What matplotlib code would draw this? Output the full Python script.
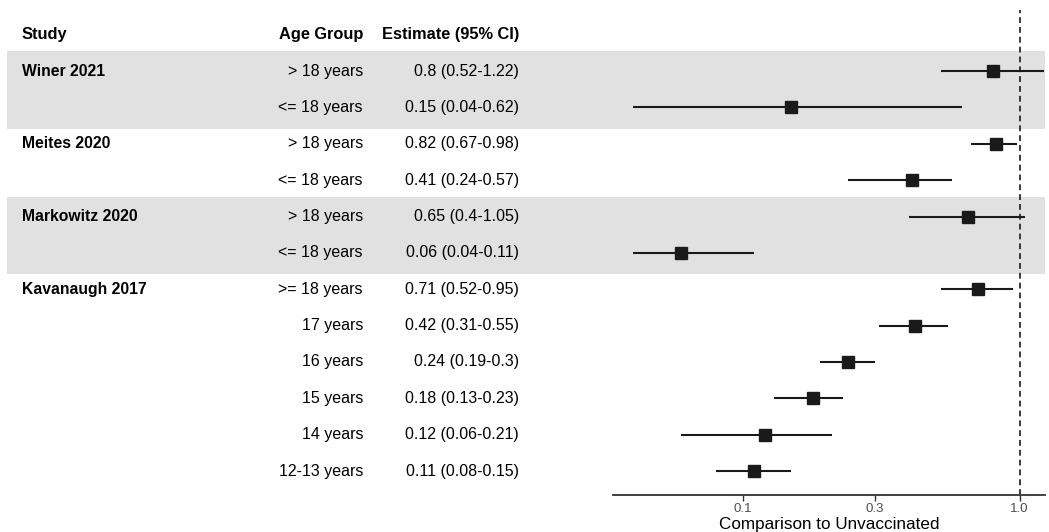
import numpy as np
import matplotlib.pyplot as plt

studies = ["Winer 2021", "", "Meites 2020", "", "Markowitz 2020", "",
           "Kavanaugh 2017", "", "", "", "", ""]
age_groups = ["> 18 years", "<= 18 years", "> 18 years", "<= 18 years",
              "> 18 years", "<= 18 years", ">= 18 years", "17 years",
              "16 years", "15 years", "14 years", "12-13 years"]
estimates = [0.8, 0.15, 0.82, 0.41, 0.65, 0.06, 0.71, 0.42, 0.24, 0.18, 0.12, 0.11]
lower = [0.52, 0.04, 0.67, 0.24, 0.4, 0.04, 0.52, 0.31, 0.19, 0.13, 0.06, 0.08]
upper = [1.22, 0.62, 0.98, 0.57, 1.05, 0.11, 0.95, 0.55, 0.3, 0.23, 0.21, 0.15]
shaded_studies = ["Winer 2021", "Markowitz 2020"]
x_ticks = [0.1, 0.3, 1.0]

W, H = 1049, 532
fig = plt.figure(figsize=(W / 100, H / 100), dpi=100)
plt.rcParams['font.family'] = ['Liberation Sans', 'DejaVu Sans']

top_px, bot_px = 10, 495
y_lo, y_hi = -0.68, 12.66
ax_t = fig.add_axes([7 / W, (H - bot_px) / H, (613 - 7) / W, (bot_px - top_px) / H])
ax = fig.add_axes([613 / W, (H - bot_px) / H, (1045 - 613) / W, (bot_px - top_px) / H])

rows = np.arange(1, len(estimates) + 1)
band_color = "#e1e1e1"

# gray bands behind the shaded studies (two rows each)
for a in (ax_t, ax):
    for i, s in enumerate(studies):
        if s in shaded_studies:
            a.axhspan(rows[i] - 0.55, rows[i] + 1.58, color=band_color, lw=0, zorder=0)
    a.set_ylim(y_hi, y_lo)

# text table
ax_t.set_xlim(7, 613)
ax_t.axis("off")
fs = 11.5
ax_t.text(22, 0, "Study", fontsize=11.8, fontweight="bold", va="center", ha="left")
ax_t.text(363, 0, "Age Group", fontsize=11.8, fontweight="bold", va="center", ha="right")
ax_t.text(519, 0, "Estimate (95% CI)", fontsize=11.8, fontweight="bold", va="center", ha="right")
for i in range(len(estimates)):
    if studies[i]:
        ax_t.text(22, rows[i], studies[i], fontsize=11.3, fontweight="bold", va="center", ha="left")
    ax_t.text(363, rows[i], age_groups[i], fontsize=fs, va="center", ha="right")
    ax_t.text(519, rows[i], f"{estimates[i]:g} ({lower[i]:g}-{upper[i]:g})",
              fontsize=fs, va="center", ha="right")

# forest plot
est = np.array(estimates)
err = np.array([est - np.array(lower), np.array(upper) - est])
ax.errorbar(est, rows, xerr=err, fmt="s", color="#1a1a1a", ms=8.5,
            elinewidth=1.5, capsize=0, zorder=3)
ax.axvline(1.0, color="#1a1a1a", ls=(0, (3.5, 2.4)), lw=1.2, zorder=2)
ax.set_xscale("log")
ax.set_xlim(0.034, 1.235)
ax.set_xticks(x_ticks)
ax.set_xticklabels([f"{t:.1f}" for t in x_ticks])
ax.minorticks_off()
ax.set_yticks([])
for s in ("top", "right", "left"):
    ax.spines[s].set_visible(False)
ax.spines["bottom"].set_color("#333333")
ax.spines["bottom"].set_linewidth(1.3)
ax.tick_params(axis="x", colors="#333333", labelcolor="#4d4d4d", labelsize=9.5,
               length=4, width=1, pad=2)
ax.set_xlabel("Comparison to Unvaccinated", fontsize=12.3, labelpad=1)
ax.patch.set_alpha(0)

fig.savefig("out.png", dpi=100)
